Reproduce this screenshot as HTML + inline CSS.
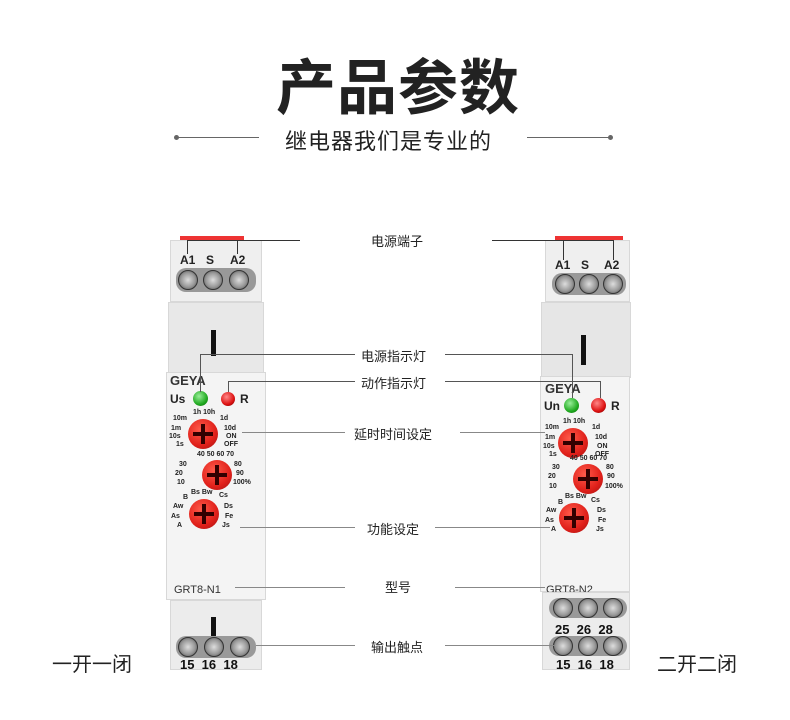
<!DOCTYPE html>
<html><head><meta charset="utf-8"><style>
*{margin:0;padding:0;box-sizing:border-box}
body{width:790px;height:720px;background:#fff;position:relative;overflow:hidden;font-family:"Liberation Sans","Noto Sans CJK SC",sans-serif}
.a{position:absolute}
.t{position:absolute;white-space:nowrap}
.cn{font-family:"Liberation Sans","Noto Sans CJK SC",sans-serif;color:#222}
.h{position:absolute;height:1px;background:#333}
.v{position:absolute;width:1px;background:#333}
.bx{border:1px solid #d8d8d8}
.scr{position:absolute;width:20px;height:20px;border-radius:50%;background:radial-gradient(circle,#ddd 0,#999 55%,#444 100%);border:1px solid #333}
.knob{position:absolute;width:30px;height:30px;border-radius:50%;background:radial-gradient(circle at 40% 35%,#ff5a4a,#e0201a 60%,#a01010);}
.knob:before{content:"";position:absolute;left:13px;top:5px;width:4px;height:20px;background:#300}
.knob:after{content:"";position:absolute;left:5px;top:13px;width:20px;height:4px;background:#300}
.sm{font-size:7px;font-weight:bold;color:#222}
.lbl{font-size:12px;font-weight:bold;color:#222}
.num{font-size:13px;font-weight:bold;color:#111}
</style></head><body>
<div class="t cn" style="left:276px;top:40px;font-size:60px;font-weight:bold;letter-spacing:1px">产品参数</div>
<div class="t cn" style="left:285px;top:124px;font-size:22px;letter-spacing:1px">继电器我们是专业的</div>
<div class="h" style="left:177px;top:137px;width:82px;background:#666"></div>
<div class="a" style="left:174px;top:135px;width:5px;height:5px;border-radius:50%;background:#666"></div>
<div class="h" style="left:527px;top:137px;width:83px;background:#666"></div>
<div class="a" style="left:608px;top:135px;width:5px;height:5px;border-radius:50%;background:#666"></div>

<!-- left device -->
<div class="a" style="left:180px;top:236px;width:64px;height:4px;background:#e33"></div>
<div class="a bx" style="left:170px;top:240px;width:92px;height:62px;background:#efefef"></div>
<div class="a" style="left:176px;top:268px;width:80px;height:24px;background:#999;border-radius:10px"></div>
<div class="t lbl" style="left:180px;top:253px">A1</div><div class="t lbl" style="left:206px;top:253px">S</div><div class="t lbl" style="left:230px;top:253px">A2</div>
<div class="scr" style="left:178px;top:270px"></div><div class="scr" style="left:203px;top:270px"></div><div class="scr" style="left:229px;top:270px"></div>
<div class="a bx" style="left:168px;top:302px;width:96px;height:72px;background:#e8e8e8"></div>
<div class="a" style="left:211px;top:330px;width:5px;height:26px;background:#111"></div>
<div class="a bx" style="left:166px;top:372px;width:100px;height:228px;background:#f4f4f4"></div>
<div class="t" style="left:170px;top:373px;font-size:13px;font-weight:900;color:#333">GEYA</div>
<div class="t" style="left:170px;top:392px;font-size:12px;font-weight:bold;color:#222">Us</div>
<div class="a" style="left:193px;top:391px;width:15px;height:15px;border-radius:50%;background:radial-gradient(circle at 40% 35%,#9e9,#2a2 60%,#060)"></div>
<div class="a" style="left:221px;top:392px;width:14px;height:14px;border-radius:50%;background:radial-gradient(circle at 40% 35%,#f88,#d11 60%,#600)"></div>
<div class="t" style="left:240px;top:392px;font-size:12px;font-weight:bold;color:#222">R</div>
<div class="t sm" style="left:193px;top:409px">1h 10h</div>
<div class="t sm" style="left:173px;top:415px">10m</div><div class="t sm" style="left:220px;top:415px">1d</div>
<div class="t sm" style="left:171px;top:425px">1m</div><div class="t sm" style="left:224px;top:425px">10d</div>
<div class="t sm" style="left:169px;top:433px">10s</div><div class="t sm" style="left:226px;top:433px">ON</div>
<div class="t sm" style="left:176px;top:441px">1s</div><div class="t sm" style="left:224px;top:441px">OFF</div>
<div class="knob" style="left:188px;top:419px"></div>
<div class="t sm" style="left:197px;top:451px">40 50 60 70</div>
<div class="t sm" style="left:179px;top:461px">30</div><div class="t sm" style="left:234px;top:461px">80</div>
<div class="t sm" style="left:175px;top:470px">20</div><div class="t sm" style="left:236px;top:470px">90</div>
<div class="t sm" style="left:177px;top:479px">10</div><div class="t sm" style="left:233px;top:479px">100%</div>
<div class="knob" style="left:202px;top:460px"></div>
<div class="t sm" style="left:191px;top:489px">Bs Bw</div>
<div class="t sm" style="left:183px;top:494px">B</div><div class="t sm" style="left:219px;top:492px">Cs</div>
<div class="t sm" style="left:173px;top:503px">Aw</div><div class="t sm" style="left:224px;top:503px">Ds</div>
<div class="t sm" style="left:171px;top:513px">As</div><div class="t sm" style="left:225px;top:513px">Fe</div>
<div class="t sm" style="left:177px;top:522px">A</div><div class="t sm" style="left:222px;top:522px">Js</div>
<div class="knob" style="left:189px;top:499px"></div>
<div class="t" style="left:174px;top:584px;font-size:11px;color:#333">GRT8-N1</div>
<div class="a bx" style="left:170px;top:600px;width:92px;height:70px;background:#ececec"></div>
<div class="a" style="left:211px;top:617px;width:5px;height:22px;background:#111"></div>
<div class="a" style="left:176px;top:636px;width:80px;height:22px;background:#999;border-radius:10px"></div>
<div class="scr" style="left:178px;top:637px"></div><div class="scr" style="left:204px;top:637px"></div><div class="scr" style="left:230px;top:637px"></div>
<div class="t num" style="left:180px;top:657px">15&nbsp;&nbsp;16&nbsp;&nbsp;18</div>

<!-- right device -->
<div class="a" style="left:555px;top:236px;width:68px;height:5px;background:#e33"></div>
<div class="a bx" style="left:545px;top:240px;width:85px;height:62px;background:#efefef"></div>
<div class="a" style="left:552px;top:273px;width:74px;height:22px;background:#999;border-radius:10px"></div>
<div class="t lbl" style="left:555px;top:258px">A1</div><div class="t lbl" style="left:581px;top:258px">S</div><div class="t lbl" style="left:604px;top:258px">A2</div>
<div class="scr" style="left:555px;top:274px"></div><div class="scr" style="left:579px;top:274px"></div><div class="scr" style="left:603px;top:274px"></div>
<div class="a bx" style="left:541px;top:302px;width:90px;height:76px;background:#e6e6e6"></div>
<div class="a" style="left:581px;top:335px;width:5px;height:30px;background:#111"></div>
<div class="a bx" style="left:540px;top:376px;width:90px;height:216px;background:#f4f4f4"></div>
<div class="t" style="left:545px;top:381px;font-size:13px;font-weight:900;color:#333">GEYA</div>
<div class="t" style="left:544px;top:399px;font-size:12px;font-weight:bold;color:#222">Un</div>
<div class="a" style="left:564px;top:398px;width:15px;height:15px;border-radius:50%;background:radial-gradient(circle at 40% 35%,#9e9,#2a2 60%,#060)"></div>
<div class="a" style="left:591px;top:398px;width:15px;height:15px;border-radius:50%;background:radial-gradient(circle at 40% 35%,#f88,#d11 60%,#600)"></div>
<div class="t" style="left:611px;top:399px;font-size:12px;font-weight:bold;color:#222">R</div>
<div class="t sm" style="left:563px;top:418px">1h 10h</div>
<div class="t sm" style="left:545px;top:424px">10m</div><div class="t sm" style="left:592px;top:424px">1d</div>
<div class="t sm" style="left:545px;top:434px">1m</div><div class="t sm" style="left:595px;top:434px">10d</div>
<div class="t sm" style="left:543px;top:443px">10s</div><div class="t sm" style="left:597px;top:443px">ON</div>
<div class="t sm" style="left:549px;top:451px">1s</div><div class="t sm" style="left:595px;top:451px">OFF</div>
<div class="knob" style="left:558px;top:428px"></div>
<div class="t sm" style="left:570px;top:455px">40 50 60 70</div>
<div class="t sm" style="left:552px;top:464px">30</div><div class="t sm" style="left:606px;top:464px">80</div>
<div class="t sm" style="left:548px;top:473px">20</div><div class="t sm" style="left:607px;top:473px">90</div>
<div class="t sm" style="left:549px;top:483px">10</div><div class="t sm" style="left:605px;top:483px">100%</div>
<div class="knob" style="left:573px;top:464px"></div>
<div class="t sm" style="left:565px;top:493px">Bs Bw</div>
<div class="t sm" style="left:558px;top:499px">B</div><div class="t sm" style="left:591px;top:497px">Cs</div>
<div class="t sm" style="left:546px;top:507px">Aw</div><div class="t sm" style="left:597px;top:507px">Ds</div>
<div class="t sm" style="left:545px;top:517px">As</div><div class="t sm" style="left:598px;top:517px">Fe</div>
<div class="t sm" style="left:551px;top:526px">A</div><div class="t sm" style="left:596px;top:526px">Js</div>
<div class="knob" style="left:559px;top:503px"></div>
<div class="t" style="left:546px;top:584px;font-size:11px;color:#333">GRT8-N2</div>
<div class="a bx" style="left:542px;top:592px;width:88px;height:78px;background:#ececec"></div>
<div class="a" style="left:549px;top:598px;width:78px;height:20px;background:#999;border-radius:10px"></div>
<div class="scr" style="left:553px;top:598px"></div><div class="scr" style="left:578px;top:598px"></div><div class="scr" style="left:603px;top:598px"></div>
<div class="t num" style="left:555px;top:622px">25&nbsp;&nbsp;26&nbsp;&nbsp;28</div>
<div class="a" style="left:549px;top:636px;width:78px;height:20px;background:#999;border-radius:10px"></div>
<div class="scr" style="left:553px;top:636px"></div><div class="scr" style="left:578px;top:636px"></div><div class="scr" style="left:603px;top:636px"></div>
<div class="t num" style="left:556px;top:657px">15&nbsp;&nbsp;16&nbsp;&nbsp;18</div>

<!-- labels -->
<div class="t cn" style="left:371px;top:231px;font-size:13px">电源端子</div>
<div class="t cn" style="left:361px;top:346px;font-size:13px">电源指示灯</div>
<div class="t cn" style="left:361px;top:373px;font-size:13px">动作指示灯</div>
<div class="t cn" style="left:354px;top:424px;font-size:13px">延时时间设定</div>
<div class="t cn" style="left:367px;top:519px;font-size:13px">功能设定</div>
<div class="t cn" style="left:385px;top:577px;font-size:13px">型号</div>
<div class="t cn" style="left:371px;top:637px;font-size:13px">输出触点</div>
<div class="t cn" style="left:52px;top:648px;font-size:20px">一开一闭</div>
<div class="t cn" style="left:657px;top:648px;font-size:20px">二开二闭</div>

<!-- connectors left -->
<div class="h" style="left:187px;top:240px;width:113px"></div>
<div class="v" style="left:187px;top:240px;height:14px"></div><div class="v" style="left:237px;top:240px;height:14px"></div>
<div class="h" style="left:200px;top:354px;width:155px;background:#555"></div>
<div class="v" style="left:200px;top:354px;height:38px;background:#555"></div>
<div class="h" style="left:228px;top:381px;width:127px;background:#555"></div>
<div class="v" style="left:228px;top:381px;height:11px;background:#555"></div>
<div class="h" style="left:242px;top:432px;width:103px;background:#888"></div>
<div class="h" style="left:240px;top:527px;width:115px;background:#888"></div>
<div class="h" style="left:235px;top:587px;width:110px;background:#888"></div>
<div class="h" style="left:256px;top:645px;width:99px;background:#888"></div>
<!-- connectors right -->
<div class="h" style="left:492px;top:240px;width:122px"></div>
<div class="v" style="left:563px;top:240px;height:20px"></div><div class="v" style="left:613px;top:240px;height:20px"></div>
<div class="h" style="left:445px;top:354px;width:127px;background:#555"></div>
<div class="v" style="left:572px;top:354px;height:44px;background:#555"></div>
<div class="h" style="left:445px;top:381px;width:155px;background:#555"></div>
<div class="v" style="left:600px;top:381px;height:17px;background:#555"></div>
<div class="h" style="left:460px;top:432px;width:85px;background:#888"></div>
<div class="h" style="left:435px;top:527px;width:115px;background:#888"></div>
<div class="h" style="left:455px;top:587px;width:90px;background:#888"></div>
<div class="h" style="left:445px;top:645px;width:110px;background:#888"></div>
</body></html>
